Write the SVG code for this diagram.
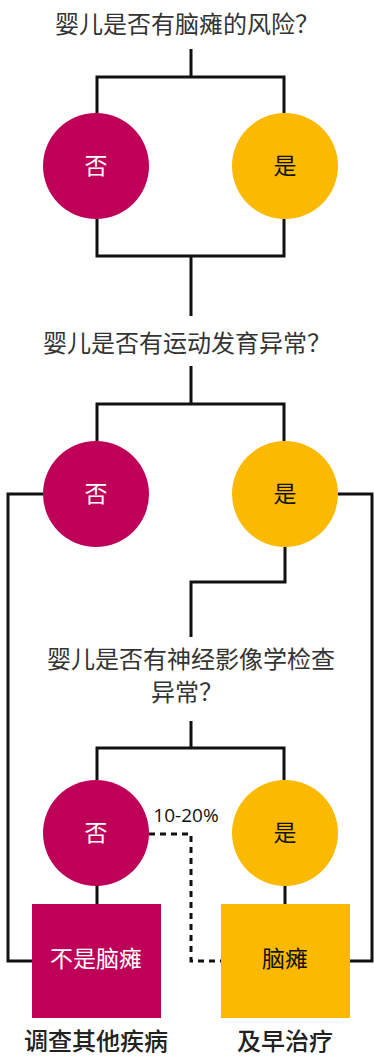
<svg xmlns="http://www.w3.org/2000/svg" width="374" height="1062" viewBox="0 0 374 1062">
<style>
.ln{fill:none;stroke:#111;stroke-width:3}
.dash{stroke-dasharray:6 5}
.q{font-family:"Noto Sans CJK SC","Noto Sans",sans-serif;font-size:24px;fill:#333;text-anchor:middle}
.no{fill:#BE0058}
.yes{fill:#FBB900}
.lbw{font-family:"Noto Sans CJK SC",sans-serif;font-size:23px;fill:#fff;text-anchor:middle}
.lbk{font-family:"Noto Sans CJK SC",sans-serif;font-size:23px;fill:#111;text-anchor:middle}
.out{font-family:"Noto Sans CJK SC",sans-serif;font-size:24px;font-weight:500;fill:#222;text-anchor:middle}
.pct{font-family:"Open Sans",sans-serif;font-size:19px;fill:#111;text-anchor:middle}
</style>
<rect width="374" height="1062" fill="#fff"/>
<g id="connectors">
<path class="ln" d="M191 49V77M97 113V77H284V113"/>
<path class="ln" d="M97 219V256H284V219M191 256V316"/>
<path class="ln" d="M191 366V404M97 441V404H284V441"/>
<path class="ln" d="M43 494H8V961H32"/>
<path class="ln" d="M338 494H372V961H350"/>
<path class="ln" d="M285 547V582H191V637"/>
<path class="ln" d="M191 721V748M97 780V748H284V780"/>
<path class="ln" d="M97 885V904M285 885V904"/>
<path class="ln dash" d="M149 834H191V961H221"/>
<text class="pct" x="186" y="822">10-20%</text>
</g>
<g id="q1"><text class="q" x="187" y="33">婴儿是否有脑瘫的风险？</text></g>
<g id="n1"><circle class="no" cx="96" cy="166" r="53"/><text class="lbw" x="96" y="174">否</text></g>
<g id="y1"><circle class="yes" cx="285" cy="166" r="53"/><text class="lbk" x="285" y="174">是</text></g>
<g id="q2"><text class="q" x="187" y="352">婴儿是否有运动发育异常？</text></g>
<g id="n2"><circle class="no" cx="96" cy="494" r="53"/><text class="lbw" x="96" y="502">否</text></g>
<g id="y2"><circle class="yes" cx="285" cy="494" r="53"/><text class="lbk" x="285" y="502">是</text></g>
<g id="q3"><text class="q" x="191" y="668">婴儿是否有神经影像学检查</text><text class="q" x="187" y="701">异常？</text></g>
<g id="n3"><circle class="no" cx="96" cy="833" r="53"/><text class="lbw" x="96" y="841">否</text></g>
<g id="y3"><circle class="yes" cx="285" cy="833" r="53"/><text class="lbk" x="285" y="841">是</text></g>
<g id="r1"><rect class="no" x="32" y="904" width="129" height="114"/><text class="lbw" x="96" y="967">不是脑瘫</text></g>
<g id="r2"><rect class="yes" x="221" y="904" width="129" height="114"/><text class="lbk" x="285" y="967">脑瘫</text></g>
<g id="o1"><text class="out" x="96" y="1050">调查其他疾病</text></g>
<g id="o2"><text class="out" x="285" y="1050">及早治疗</text></g>
</svg>
